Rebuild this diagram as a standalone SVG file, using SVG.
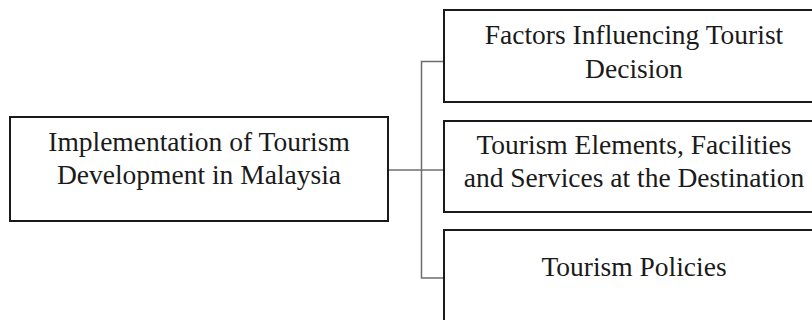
<svg xmlns="http://www.w3.org/2000/svg" width="812" height="320" viewBox="0 0 812 320">
<style>
.box{fill:#ffffff;stroke:#1a1a1a;stroke-width:2}
.t{font-family:"Liberation Serif","Times New Roman",serif;font-size:27.5px;fill:#1a1a1a;text-anchor:middle}
.c{fill:none;stroke:#6e6e6e;stroke-width:1.5}
</style>
<rect width="812" height="320" fill="#ffffff"/>
<g id="connectors">
<path class="c" d="M388 170 H444"/>
<path class="c" d="M444 61.5 H421.5 V278 H444"/>
</g>
<g id="node-main">
<rect class="box" x="10" y="117" width="378" height="104"/>
<text class="t" x="199" y="151">Implementation of Tourism</text>
<text class="t" x="199" y="184">Development in Malaysia</text>
</g>
<g id="node-factors">
<rect class="box" x="444" y="10" width="380" height="92"/>
<text class="t" x="634" y="44">Factors Influencing Tourist</text>
<text class="t" x="634" y="78">Decision</text>
</g>
<g id="node-elements">
<rect class="box" x="444" y="121" width="380" height="91"/>
<text class="t" x="634" y="154">Tourism Elements, Facilities</text>
<text class="t" x="634" y="187">and Services at the Destination</text>
</g>
<g id="node-policies">
<rect class="box" x="444" y="230" width="380" height="100"/>
<text class="t" x="634" y="276">Tourism Policies</text>
</g>
</svg>
